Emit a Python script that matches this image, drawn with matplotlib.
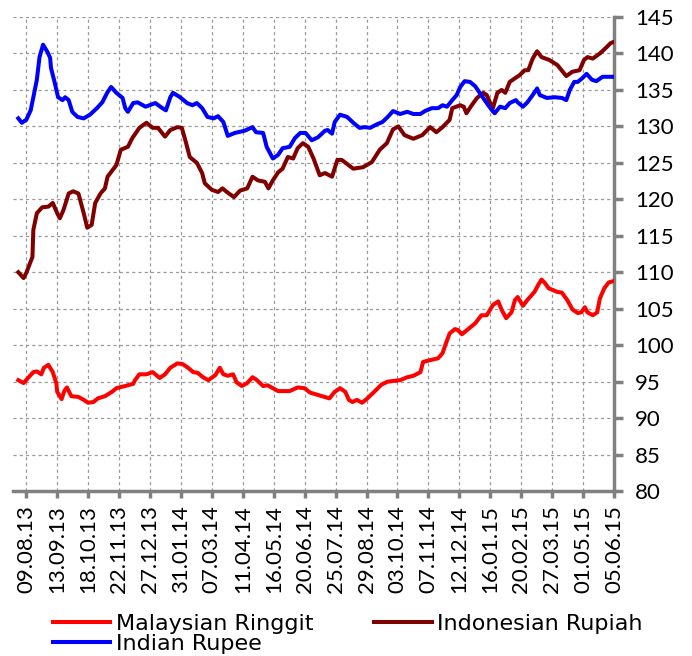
import pandas as pd
import matplotlib.pyplot as plt

plt.rcParams['font.family'] = ['Lato', 'DejaVu Sans']

# Malaysian Ringgit
myr_dates = ['2013-07-31', '2013-08-06', '2013-08-11', '2013-08-17', '2013-08-21', '2013-08-26',
             '2013-08-29', '2013-09-03', '2013-09-08', '2013-09-12', '2013-09-13', '2013-09-18',
             '2013-09-21', '2013-09-24', '2013-09-29', '2013-10-07', '2013-10-13', '2013-10-18',
             '2013-10-24', '2013-10-29', '2013-11-06', '2013-11-14', '2013-11-19', '2013-11-29',
             '2013-12-08', '2013-12-10', '2013-12-15', '2013-12-23', '2013-12-30', '2014-01-07',
             '2014-01-13', '2014-01-19', '2014-01-27', '2014-02-02', '2014-02-08', '2014-02-14',
             '2014-02-19', '2014-02-25', '2014-03-03', '2014-03-11', '2014-03-16', '2014-03-20',
             '2014-03-25', '2014-03-31', '2014-04-04', '2014-04-10', '2014-04-16', '2014-04-22',
             '2014-04-26', '2014-05-04', '2014-05-09', '2014-05-15', '2014-05-21', '2014-06-03',
             '2014-06-12', '2014-06-20', '2014-06-26', '2014-07-07', '2014-07-18', '2014-07-24',
             '2014-07-30', '2014-08-05', '2014-08-09', '2014-08-13', '2014-08-18', '2014-08-24',
             '2014-08-29', '2014-09-05', '2014-09-15', '2014-09-22', '2014-10-06', '2014-10-14',
             '2014-10-21', '2014-10-29', '2014-11-01', '2014-11-11', '2014-11-18', '2014-11-23',
             '2014-11-27', '2014-12-01', '2014-12-07', '2014-12-10', '2014-12-15', '2014-12-21',
             '2014-12-30', '2015-01-06', '2015-01-12', '2015-01-19', '2015-01-25', '2015-01-29',
             '2015-02-03', '2015-02-09', '2015-02-13', '2015-02-16', '2015-02-22', '2015-02-27',
             '2015-03-07', '2015-03-11', '2015-03-15', '2015-03-19', '2015-03-23', '2015-04-02',
             '2015-04-07', '2015-04-13', '2015-04-19', '2015-04-25', '2015-04-29', '2015-05-03',
             '2015-05-06', '2015-05-12', '2015-05-17', '2015-05-20', '2015-05-25', '2015-05-30',
             '2015-06-05']
myr_values = [95.2, 94.8, 95.5, 96.3, 96.4, 96.0,
              96.9, 97.3, 96.3, 94.8, 93.6, 92.6,
              93.7, 94.2, 93.0, 92.9, 92.5, 92.1,
              92.2, 92.7, 93.0, 93.6, 94.1, 94.4,
              94.7, 95.2, 96.0, 96.0, 96.3, 95.5,
              96.0, 96.9, 97.5, 97.4, 96.9, 96.3,
              96.2, 95.6, 95.2, 95.9, 96.9, 96.0,
              95.8, 96.0, 94.9, 94.4, 94.8, 95.6,
              95.3, 94.4, 94.5, 94.1, 93.7, 93.7,
              94.2, 94.1, 93.5, 93.1, 92.7, 93.6,
              94.1, 93.6, 92.5, 92.2, 92.5, 92.1,
              92.6, 93.4, 94.6, 95.0, 95.2, 95.6,
              95.8, 96.3, 97.7, 98.0, 98.2, 98.9,
              100.3, 101.6, 102.2, 102.1, 101.5, 102.1,
              103.0, 104.1, 104.1, 105.5, 106.0, 104.8,
              103.7, 104.5, 106.2, 106.6, 105.4, 106.2,
              107.3, 108.2, 109.0, 108.5, 107.8, 107.3,
              107.2, 106.2, 104.9, 104.4, 104.5, 105.2,
              104.5, 104.1, 104.5, 106.4, 107.8, 108.6,
              108.8]

# Indonesian Rupiah
idr_dates = ['2013-07-31', '2013-08-06', '2013-08-09', '2013-08-16', '2013-08-17', '2013-08-21',
             '2013-08-27', '2013-09-03', '2013-09-08', '2013-09-13', '2013-09-16', '2013-09-20',
             '2013-09-26', '2013-10-01', '2013-10-07', '2013-10-13', '2013-10-17', '2013-10-22',
             '2013-10-26', '2013-11-01', '2013-11-06', '2013-11-09', '2013-11-19', '2013-11-24',
             '2013-12-02', '2013-12-07', '2013-12-15', '2013-12-23', '2013-12-30', '2014-01-05',
             '2014-01-13', '2014-01-19', '2014-01-27', '2014-02-01', '2014-02-05', '2014-02-10',
             '2014-02-18', '2014-02-24', '2014-02-27', '2014-03-07', '2014-03-14', '2014-03-19',
             '2014-03-24', '2014-04-01', '2014-04-08', '2014-04-16', '2014-04-22', '2014-04-28',
             '2014-05-06', '2014-05-10', '2014-05-15', '2014-05-21', '2014-05-26', '2014-06-01',
             '2014-06-07', '2014-06-12', '2014-06-18', '2014-06-24', '2014-06-30', '2014-07-07',
             '2014-07-13', '2014-07-21', '2014-07-27', '2014-08-01', '2014-08-14', '2014-08-25',
             '2014-09-04', '2014-09-13', '2014-09-21', '2014-09-28', '2014-10-04', '2014-10-11',
             '2014-10-21', '2014-10-31', '2014-11-09', '2014-11-16', '2014-11-23', '2014-12-01',
             '2014-12-04', '2014-12-13', '2014-12-17', '2014-12-20', '2014-12-26', '2015-01-01',
             '2015-01-08', '2015-01-12', '2015-01-16', '2015-01-19', '2015-01-24', '2015-01-29',
             '2015-02-02', '2015-02-07', '2015-02-13', '2015-02-18', '2015-02-24', '2015-02-28',
             '2015-03-05', '2015-03-10', '2015-03-15', '2015-03-24', '2015-04-02', '2015-04-12',
             '2015-04-19', '2015-04-27', '2015-05-02', '2015-05-06', '2015-05-12', '2015-05-20',
             '2015-05-28', '2015-06-01', '2015-06-05']
idr_values = [110.0, 109.2, 109.9, 112.1, 115.8, 118.1,
              118.9, 119.0, 119.5, 118.1, 117.4, 118.5,
              120.8, 121.1, 120.8, 118.1, 116.1, 116.5,
              119.5, 120.8, 121.5, 123.1, 124.7, 126.8,
              127.2, 128.4, 129.8, 130.5, 129.8, 129.8,
              128.6, 129.5, 129.9, 129.8, 128.1, 125.8,
              125.0, 123.6, 122.2, 121.3, 121.0, 121.5,
              121.0, 120.3, 121.2, 121.5, 123.1, 122.6,
              122.4, 121.5, 122.6, 123.7, 124.2, 125.8,
              125.6, 127.0, 127.7, 127.2, 125.6, 123.3,
              123.6, 123.1, 125.4, 125.4, 124.2, 124.4,
              125.1, 126.8, 127.7, 129.6, 130.0, 128.8,
              128.3, 128.8, 129.9, 129.2, 129.9, 130.9,
              132.5, 132.9, 132.7, 131.8, 132.9, 133.9,
              134.6, 134.3, 133.2, 132.5, 134.6, 135.0,
              134.6, 136.1, 136.6, 137.0, 137.7, 137.7,
              139.3, 140.3, 139.5, 139.1, 138.4, 136.9,
              137.5, 137.7, 139.1, 139.5, 139.3, 140.0,
              140.9, 141.4, 141.6]

# Indian Rupee
inr_dates = ['2013-07-31', '2013-08-04', '2013-08-09', '2013-08-14', '2013-08-17', '2013-08-21',
             '2013-08-24', '2013-08-28', '2013-09-02', '2013-09-05', '2013-09-06', '2013-09-10',
             '2013-09-14', '2013-09-19', '2013-09-22', '2013-09-26', '2013-09-30', '2013-10-06',
             '2013-10-13', '2013-10-20', '2013-10-28', '2013-11-03', '2013-11-09', '2013-11-13',
             '2013-11-19', '2013-11-26', '2013-11-29', '2013-12-02', '2013-12-08', '2013-12-13',
             '2013-12-22', '2014-01-02', '2014-01-10', '2014-01-14', '2014-01-19', '2014-01-22',
             '2014-01-30', '2014-02-07', '2014-02-13', '2014-02-18', '2014-02-24', '2014-03-02',
             '2014-03-09', '2014-03-14', '2014-03-20', '2014-03-25', '2014-04-02', '2014-04-13',
             '2014-04-22', '2014-04-26', '2014-05-04', '2014-05-08', '2014-05-15', '2014-05-21',
             '2014-05-26', '2014-06-03', '2014-06-09', '2014-06-15', '2014-06-21', '2014-06-28',
             '2014-07-05', '2014-07-13', '2014-07-16', '2014-07-21', '2014-07-24', '2014-07-30',
             '2014-08-07', '2014-08-14', '2014-08-21', '2014-08-27', '2014-09-02', '2014-09-10',
             '2014-09-16', '2014-09-22', '2014-09-28', '2014-10-06', '2014-10-14', '2014-10-21',
             '2014-10-29', '2014-11-03', '2014-11-11', '2014-11-18', '2014-11-23', '2014-11-28',
             '2014-12-04', '2014-12-09', '2014-12-13', '2014-12-18', '2014-12-24', '2014-12-30',
             '2015-01-04', '2015-01-12', '2015-01-18', '2015-01-21', '2015-01-27', '2015-02-02',
             '2015-02-07', '2015-02-14', '2015-02-16', '2015-02-22', '2015-02-27', '2015-03-05',
             '2015-03-10', '2015-03-13', '2015-03-21', '2015-03-30', '2015-04-07', '2015-04-12',
             '2015-04-16', '2015-04-21', '2015-04-25', '2015-04-30', '2015-05-05', '2015-05-11',
             '2015-05-16', '2015-05-23', '2015-06-01', '2015-06-05']
inr_values = [131.1, 130.5, 130.9, 132.2, 134.0, 136.4,
              139.5, 141.2, 140.2, 139.4, 138.0, 136.1,
              134.0, 133.6, 134.0, 133.6, 132.0, 131.3,
              131.1, 131.6, 132.5, 133.3, 134.7, 135.4,
              134.6, 133.9, 132.5, 132.0, 133.2, 133.3,
              132.7, 133.2, 132.5, 132.2, 134.0, 134.6,
              134.0, 133.2, 132.9, 133.2, 132.5, 131.3,
              131.1, 131.4, 130.6, 128.7, 129.1, 129.4,
              129.9, 129.2, 129.1, 127.2, 125.6, 126.1,
              127.0, 127.2, 128.4, 129.1, 129.1, 128.1,
              128.5, 129.4, 129.5, 129.0, 130.6, 131.6,
              131.3, 130.5, 129.8, 129.9, 129.8, 130.3,
              130.6, 131.3, 132.1, 131.7, 132.0, 131.7,
              131.7, 132.1, 132.5, 132.5, 132.9, 132.7,
              133.6, 134.3, 135.4, 136.2, 136.1, 135.5,
              134.6, 133.2, 132.2, 131.8, 132.7, 132.5,
              133.2, 133.6, 133.3, 132.7, 133.3, 134.3,
              135.2, 134.3, 133.9, 134.0, 133.9, 133.6,
              135.0, 136.1, 136.1, 136.6, 137.2, 136.4,
              136.2, 136.8, 136.8, 136.8]

tick_dates = pd.date_range('2013-08-09', periods=20, freq='35D')
tick_labels = [d.strftime('%d.%m.%y') for d in tick_dates]
y_ticks = list(range(80, 146, 5))

gray = '#808080'

fig = plt.figure(figsize=(6.92, 6.56), dpi=100)
ax = fig.add_axes([13 / 692, 1 - 491 / 656, (614 - 13) / 692, (491 - 17) / 656])

ax.plot(pd.to_datetime(myr_dates), myr_values, color='#ff0000', lw=2.9,
        solid_joinstyle='round', label='Malaysian Ringgit', zorder=3)
ax.plot(pd.to_datetime(idr_dates), idr_values, color='#800000', lw=2.9,
        solid_joinstyle='round', label='Indonesian Rupiah', zorder=3)
ax.plot(pd.to_datetime(inr_dates), inr_values, color='#0000ff', lw=2.9,
        solid_joinstyle='round', label='Indian Rupee', zorder=3)

ax.set_xlim(pd.Timestamp('2013-07-25'), pd.Timestamp('2015-06-05'))
ax.set_ylim(80, 145)
ax.set_yticks(y_ticks)
ax.set_xticks(tick_dates)
ax.set_xticklabels(tick_labels, rotation=90, ha='center', va='top')

ax.yaxis.tick_right()
ax.tick_params(axis='both', colors=gray, labelcolor='black', width=2.5,
               labelsize=16, labelfontfamily='Lato', direction='out')
ax.tick_params(axis='y', length=6.5, pad=8.6)
ax.tick_params(axis='x', length=5, pad=5)

for side in ['left', 'top']:
    ax.spines[side].set_visible(False)
for side in ['right', 'bottom']:
    ax.spines[side].set_color(gray)
    ax.spines[side].set_linewidth(2.5)

ax.grid(True, color='#999999', linestyle=(0, (2.5, 2.5)), linewidth=0.9)

h = ax.get_legend_handles_labels()[0]
leg = fig.legend([h[0], h[2], h[1]], ['Malaysian Ringgit', 'Indian Rupee', 'Indonesian Rupiah'],
                 ncol=2, loc='upper left', bbox_to_anchor=(0.06, 0.081),
                 frameon=False, prop={'family': 'DejaVu Sans', 'size': 16},
                 handlelength=2.6, handletextpad=0.23,
                 columnspacing=2.75, labelspacing=0.0, borderpad=0.0)

fig.savefig('out.png', dpi=100)
